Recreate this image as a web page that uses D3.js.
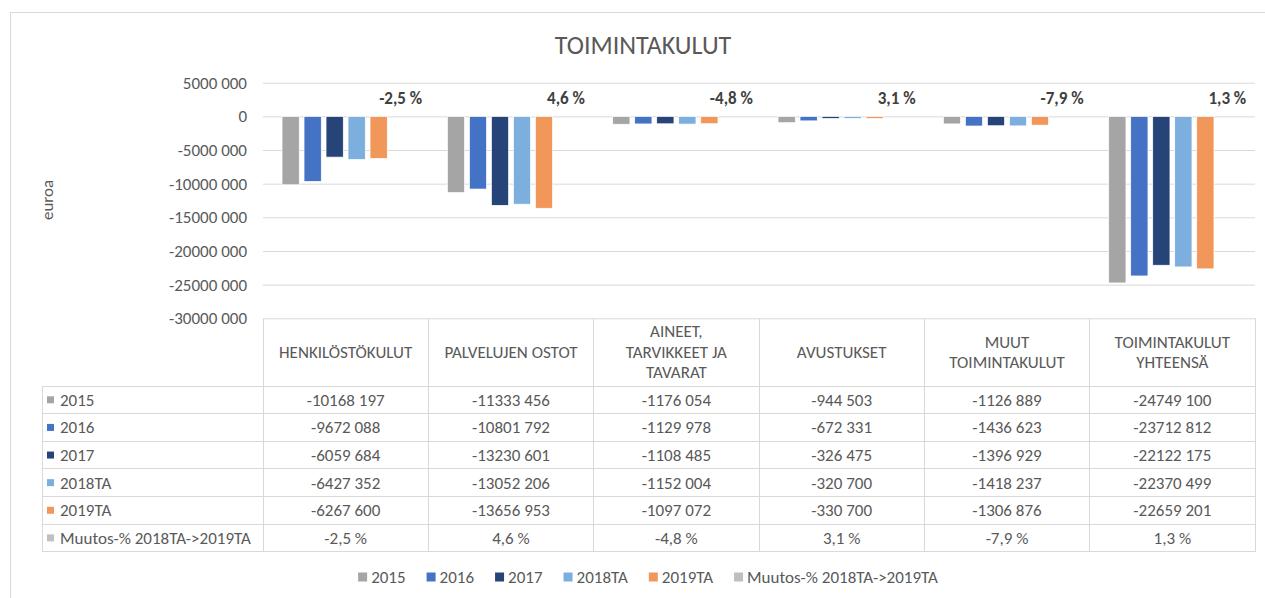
<!DOCTYPE html>
<html>
<head>
<meta charset="utf-8">
<script src="https://d3js.org/d3.v7.min.js"></script>
<style>
  body { margin: 0; background: #fff; }
  text { font-family: Calibri, Carlito, "Liberation Sans", sans-serif; fill: #595959; }
</style>
</head>
<body>
<script>
// chart data
var categories = [
    ["HENKILÖSTÖKULUT"],
    ["PALVELUJEN OSTOT"],
    ["AINEET,", "TARVIKKEET JA", "TAVARAT"],
    ["AVUSTUKSET"],
    ["MUUT", "TOIMINTAKULUT"],
    ["TOIMINTAKULUT", "YHTEENSÄ"]
];
var seriesNames = ["2015", "2016", "2017", "2018TA", "2019TA", "Muutos-% 2018TA->2019TA"];
var seriesColors = ["#a5a5a5", "#4472c4", "#264478", "#7cafdd", "#f1975a", "#bfbfbf"];
var values2015 = [-10168197, -11333456, -1176054, -944503, -1126889, -24749100];
var values2016 = [-9672088, -10801792, -1129978, -672331, -1436623, -23712812];
var values2017 = [-6059684, -13230601, -1108485, -326475, -1396929, -22122175];
var values2018TA = [-6427352, -13052206, -1152004, -320700, -1418237, -22370499];
var values2019TA = [-6267600, -13656953, -1097072, -330700, -1306876, -22659201];
var muutos = [-0.025, 0.046, -0.048, 0.031, -0.079, 0.013];
var yTicks = [5000000, 0, -5000000, -10000000, -15000000, -20000000, -25000000, -30000000];

var seriesValues = [values2015, values2016, values2017, values2018TA, values2019TA, muutos];

// excel style number formats
function fmtNum(v) {
    var a = Math.abs(v), s = v < 0 ? "-" : "";
    if (a < 1000) return s + a;
    var rest = String(a % 1000);
    while (rest.length < 3) rest = "0" + rest;
    return s + Math.floor(a / 1000) + " " + rest;
}
function fmtPct(v) {
    return (v * 100).toFixed(1).replace(".", ",") + " %";
}

var W = 1265, H = 598;
var plotLeft = 263, plotRight = 1255;
var tableLeft = 42, headerBottom = 386, tableBottom = 551.7;
var fs = "17px";

var svg = d3.select("body").append("svg")
    .attr("width", W)
    .attr("height", H);

// outer chart border
svg.append("rect")
    .attr("x", 10.5).attr("y", 12.5)
    .attr("width", W + 10).attr("height", H + 10)
    .attr("fill", "none")
    .attr("stroke", "#d9d9d9");

svg.append("text")
    .attr("x", 643).attr("y", 54)
    .attr("text-anchor", "middle")
    .style("font-size", "26px")
    .text("TOIMINTAKULUT");

// scales
var y = d3.scaleLinear()
    .domain([-30000000, 5000000])
    .range([318.3, 82.7]);

var x0 = d3.scaleBand()
    .domain(d3.range(categories.length))
    .range([plotLeft, plotRight]);

var x1 = d3.scaleBand()
    .domain(d3.range(seriesNames.length))
    .range([0, x0.bandwidth()])
    .paddingInner(0.214)
    .paddingOuter(0.864);

// gridlines and y labels
var yAxis = svg.append("g")
    .attr("transform", "translate(" + plotLeft + ",0)")
    .call(d3.axisLeft(y).tickValues(yTicks).tickSize(-(plotRight - plotLeft)).tickPadding(16).tickFormat(fmtNum));
yAxis.select(".domain").remove();
yAxis.selectAll(".tick line").attr("stroke", "#d9d9d9");
yAxis.selectAll(".tick text")
    .style("font-size", fs)
    .attr("fill", "#595959")
    .style("font-family", "Calibri, Carlito, 'Liberation Sans', sans-serif");

svg.append("text")
    .attr("transform", "translate(53,200) rotate(-90)")
    .attr("text-anchor", "middle")
    .style("font-size", fs)
    .text("euroa");

// bars, one group per category
var groups = svg.selectAll(".cat")
    .data(categories)
    .enter().append("g")
    .attr("class", "cat")
    .attr("transform", function(d, i) { return "translate(" + x0(i) + ",0)"; });

groups.selectAll("rect")
    .data(function(d, i) {
        return seriesValues.slice(0, 5).map(function(s, j) { return {s: j, v: s[i]}; });
    })
    .enter().append("rect")
    .attr("x", function(d) { return x1(d.s); })
    .attr("width", x1.bandwidth())
    .attr("y", function(d) { return Math.min(y(d.v), y(0)); })
    .attr("height", function(d) { return Math.abs(y(d.v) - y(0)); })
    .attr("fill", function(d) { return seriesColors[d.s]; })
    .attr("stroke", "#fff")
    .attr("stroke-width", 0.75);

// percentage labels sit on the last series slot
groups.append("text")
    .attr("x", x1(5) + x1.bandwidth() / 2)
    .attr("y", y(0) - 12)
    .attr("text-anchor", "middle")
    .style("font-size", fs)
    .style("font-weight", "bold")
    .style("fill", "#404040")
    .text(function(d, i) { return fmtPct(muutos[i]); });

// data table
var rowY = d3.scaleBand()
    .domain(d3.range(seriesNames.length))
    .range([headerBottom, tableBottom]);

var grid = svg.append("g")
    .attr("stroke", "#d9d9d9")
    .attr("shape-rendering", "crispEdges");

grid.selectAll(".hline")
    .data(d3.range(seriesNames.length + 1))
    .enter().append("line")
    .attr("x1", tableLeft).attr("x2", plotRight)
    .attr("y1", function(d) { return d < seriesNames.length ? rowY(d) : tableBottom; })
    .attr("y2", function(d) { return d < seriesNames.length ? rowY(d) : tableBottom; });

grid.selectAll(".vline")
    .data(d3.range(categories.length + 1))
    .enter().append("line")
    .attr("x1", function(d) { return d < categories.length ? x0(d) : plotRight; })
    .attr("x2", function(d) { return d < categories.length ? x0(d) : plotRight; })
    .attr("y1", y(-30000000)).attr("y2", tableBottom);

grid.append("line")
    .attr("x1", tableLeft).attr("x2", tableLeft)
    .attr("y1", headerBottom).attr("y2", tableBottom);

// header cells
groups.append("text")
    .attr("text-anchor", "middle")
    .style("font-size", fs)
    .selectAll("tspan")
    .data(function(d) { return d.map(function(line, k) { return {line: line, k: k, n: d.length}; }); })
    .enter().append("tspan")
    .attr("x", x0.bandwidth() / 2)
    .attr("y", function(d) { return 352 + (d.k - (d.n - 1) / 2) * 20.5; })
    .attr("dy", "0.35em")
    .text(function(d) { return d.line; });

// table rows
var rows = svg.selectAll(".row")
    .data(seriesNames)
    .enter().append("g")
    .attr("class", "row")
    .attr("transform", function(d, i) { return "translate(0," + (rowY(i) + rowY.bandwidth() / 2) + ")"; });

rows.append("rect")
    .attr("x", 47).attr("y", -3.5)
    .attr("width", 7).attr("height", 7)
    .attr("fill", function(d, i) { return seriesColors[i]; });

rows.append("text")
    .attr("x", 60).attr("dy", "0.35em")
    .style("font-size", fs)
    .text(function(d) { return d; });

rows.selectAll(".cell")
    .data(function(d, i) { return seriesValues[i].map(function(v) { return {v: v, pct: i == 5}; }); })
    .enter().append("text")
    .attr("class", "cell")
    .attr("x", function(d, j) { return x0(j) + x0.bandwidth() / 2; })
    .attr("dy", "0.35em")
    .attr("text-anchor", "middle")
    .style("font-size", fs)
    .text(function(d) { return d.pct ? fmtPct(d.v) : fmtNum(d.v); });

// legend along the bottom
var legend = svg.append("g").attr("transform", "translate(0,577)");
var lx = 0;
seriesNames.forEach(function(name, i) {
    var item = legend.append("g").attr("transform", "translate(" + lx + ",0)");
    item.append("rect")
        .attr("x", 0).attr("y", -4.5)
        .attr("width", 9).attr("height", 9)
        .attr("fill", seriesColors[i]);
    var t = item.append("text")
        .attr("x", 13).attr("dy", "0.35em")
        .style("font-size", fs)
        .text(name);
    lx += 13 + t.node().getComputedTextLength() + 21;
});
legend.attr("transform", "translate(" + (648 - (lx - 21) / 2) + ",577)");
</script>
</body>
</html>
